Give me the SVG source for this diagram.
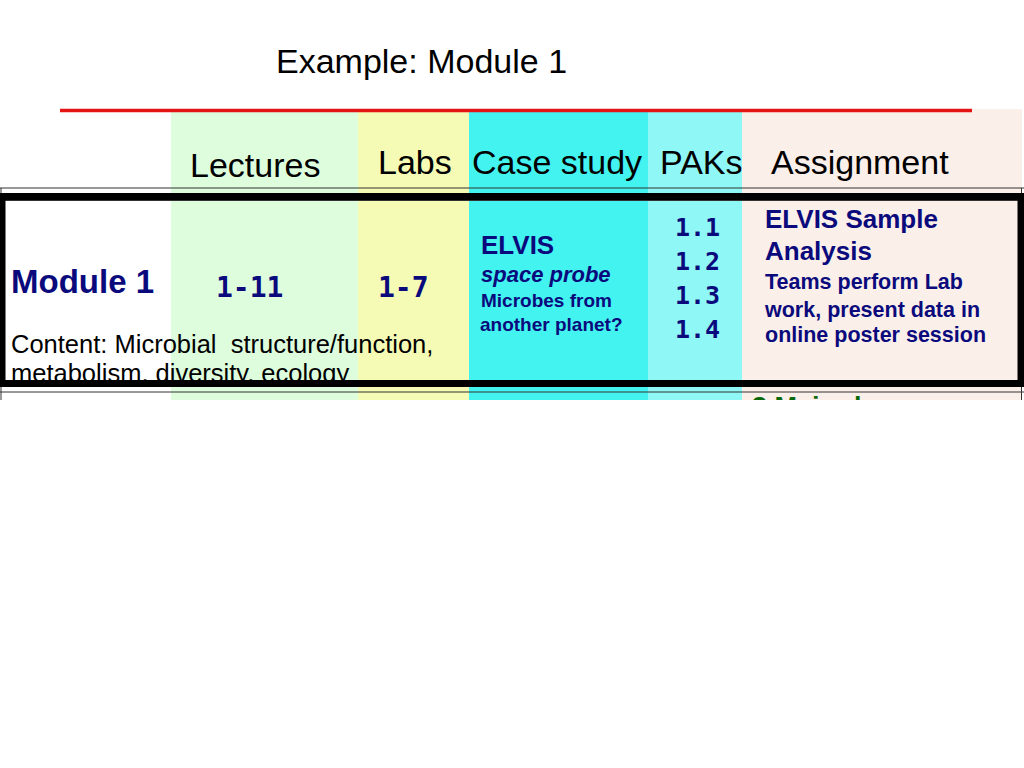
<svg xmlns="http://www.w3.org/2000/svg" width="1024" height="768" viewBox="0 0 1024 768">
<style>
.hdr{font-family:"Liberation Sans",Arial,sans-serif;font-size:34px;fill:#000}
.navy{font-family:"Liberation Sans",Arial,sans-serif;font-weight:bold;fill:#0a0a7c}
.mono{font-family:"DejaVu Sans Mono",monospace;font-weight:bold;fill:#0a0a7c}
.body{font-family:"Liberation Sans",Arial,sans-serif;font-size:25.5px;fill:#000}
.thin{stroke:#333;stroke-width:1;fill:none}
</style>
<defs>
<clipPath id="cut"><rect x="0" y="0" width="1024" height="400"/></clipPath>
</defs>
<rect width="1024" height="768" fill="#fff"/>
<g id="columns">
<rect x="171" y="111" width="187" height="289" fill="#ddfddd"/>
<rect x="358" y="111" width="111" height="289" fill="#f5fab4"/>
<rect x="469" y="111" width="179" height="289" fill="#42f3f0"/>
<rect x="648" y="111" width="94" height="289" fill="#8ff8f6"/>
<rect x="742" y="109" width="280" height="291" fill="#fbefea"/>
</g>
<line x1="60" y1="110.5" x2="972" y2="110.5" stroke="#e41414" stroke-width="3.5"/>
<text id="title" class="hdr" x="276" y="73">Example: Module 1</text>
<g id="headers">
<text class="hdr" x="190" y="177">Lectures</text>
<text class="hdr" x="378" y="174">Labs</text>
<text class="hdr" x="472" y="174">Case study</text>
<text class="hdr" x="660" y="174">PAKs</text>
<text class="hdr" x="771" y="174">Assignment</text>
</g>
<g id="grid">
<line class="thin" x1="0" y1="188" x2="1024" y2="188"/>
<line class="thin" x1="0" y1="392" x2="1024" y2="392"/>
<line class="thin" x1="0" y1="200.5" x2="1020" y2="200.5" stroke="#777"/>
<line class="thin" x1="1" y1="188" x2="1" y2="400"/>
<line class="thin" x1="1021.5" y1="188" x2="1021.5" y2="400"/>
</g>
<g id="module">
<text class="navy" x="11" y="293" font-size="33">Module 1</text>
<text class="body" x="11" y="353" xml:space="preserve">Content: Microbial  structure/function,</text>
<text class="body" x="11" y="382">metabolism, diversity, ecology</text>
</g>
<g id="lectures"><text class="mono" x="216" y="297" font-size="28">1-11</text></g>
<g id="labs"><text class="mono" x="378" y="297" font-size="28">1-7</text></g>
<g id="casestudy">
<text class="navy" x="481" y="254" font-size="26">ELVIS</text>
<text class="navy" x="481" y="282" font-size="22" font-style="italic">space probe</text>
<text class="navy" x="481" y="307" font-size="19">Microbes from</text>
<text class="navy" x="480" y="331" font-size="19">another planet?</text>
</g>
<g id="paks" class="mono" font-size="25">
<text x="675" y="236">1.1</text>
<text x="675" y="270">1.2</text>
<text x="675" y="304">1.3</text>
<text x="675" y="338">1.4</text>
</g>
<g id="assignment">
<text class="navy" x="765" y="228" font-size="26">ELVIS Sample</text>
<text class="navy" x="765" y="260" font-size="26">Analysis</text>
<text class="navy" x="765" y="289" font-size="21.5">Teams perform Lab</text>
<text class="navy" x="765" y="317" font-size="21.5">work, present data in</text>
<text class="navy" x="765" y="342" font-size="21.5">online poster session</text>
</g>
<rect id="frame" x="2" y="196.5" width="1019" height="187" fill="none" stroke="#000" stroke-width="7"/>
<g id="next" clip-path="url(#cut)">
<text x="752" y="416" font-family="Liberation Sans,Arial,sans-serif" font-weight="bold" font-size="27" fill="#0a6a0a">3 Major l</text>
</g>
</svg>
